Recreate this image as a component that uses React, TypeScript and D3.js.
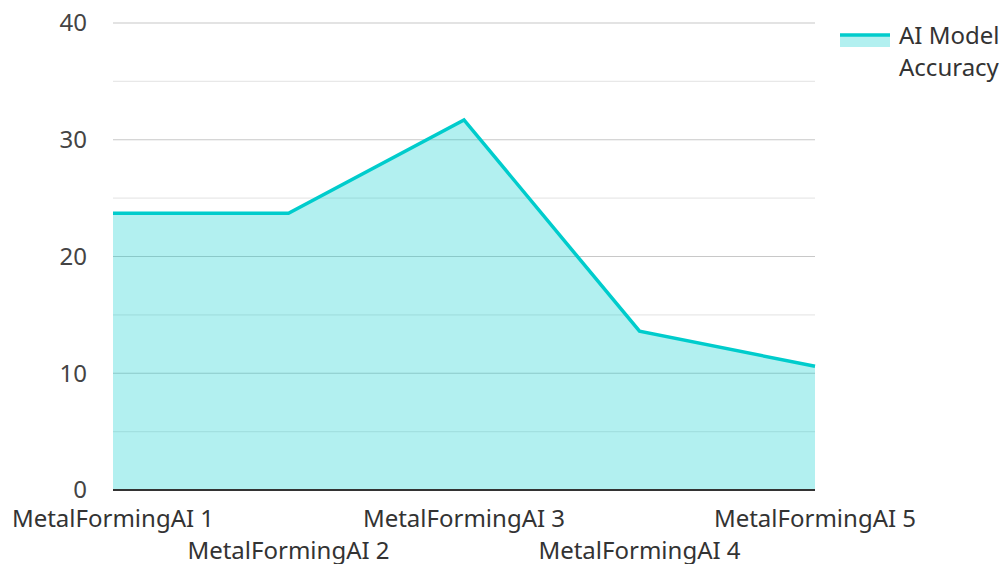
import React, { useRef, useEffect } from 'react';
import * as d3 from 'd3';

const categories = ['MetalFormingAI 1', 'MetalFormingAI 2', 'MetalFormingAI 3', 'MetalFormingAI 4', 'MetalFormingAI 5'];
const accuracy = [23.7, 23.7, 31.7, 13.6, 10.6];
const majorTicks = [0, 10, 20, 30, 40];
const minorTicks = [5, 15, 25, 35];
const seriesName = ['AI Model', 'Accuracy'];

const width = 1005;
const height = 564;

const App = () => {
    const svgRef = useRef<SVGSVGElement | null>(null);

    useEffect(() => {
        const svg = d3.select(svgRef.current);
        svg.selectAll('*').remove();
        const margin = { top: 23, right: 190, bottom: 74, left: 113 };
        const font = '"Noto Sans", sans-serif';

        const x = d3.scalePoint<string>()
            .domain(categories)
            .range([margin.left, width - margin.right])
            .padding(0);

        const y = d3.scaleLinear()
            .domain([0, 40])
            .range([height - margin.bottom, margin.top]);

        // gridlines
        const grid = svg.append('g');
        grid.selectAll('line.minor')
            .data(minorTicks)
            .join('line')
            .attr('class', 'minor')
            .attr('x1', margin.left)
            .attr('x2', width - margin.right)
            .attr('y1', d => y(d))
            .attr('y2', d => y(d))
            .attr('stroke', '#e8e8e8')
            .attr('stroke-width', 1.2);
        grid.selectAll('line.major')
            .data(majorTicks.filter(d => d > 0))
            .join('line')
            .attr('class', 'major')
            .attr('x1', margin.left)
            .attr('x2', width - margin.right)
            .attr('y1', d => y(d))
            .attr('y2', d => y(d))
            .attr('stroke', '#c8c8c8')
            .attr('stroke-width', 1.2);

        const data = categories.map((c, i) => ({ c, v: accuracy[i] }));

        const area = d3.area<{ c: string; v: number }>()
            .x(d => x(d.c) as number)
            .y0(y(0))
            .y1(d => y(d.v));

        const line = d3.line<{ c: string; v: number }>()
            .x(d => x(d.c) as number)
            .y(d => y(d.v));

        svg.append('path')
            .datum(data)
            .attr('d', area)
            .attr('fill', 'rgba(0, 204, 204, 0.3)');

        svg.append('path')
            .datum(data)
            .attr('d', line)
            .attr('fill', 'none')
            .attr('stroke', '#00cccc')
            .attr('stroke-width', 3.5)
            .attr('stroke-linejoin', 'miter');

        // baseline
        svg.append('line')
            .attr('x1', margin.left)
            .attr('x2', width - margin.right)
            .attr('y1', y(0))
            .attr('y2', y(0))
            .attr('stroke', '#333')
            .attr('stroke-width', 2);

        // y labels
        svg.append('g')
            .selectAll('text')
            .data(majorTicks)
            .join('text')
            .attr('x', 87)
            .attr('y', d => y(d))
            .attr('dy', '0.35em')
            .attr('text-anchor', 'end')
            .attr('font-family', font)
            .attr('font-size', 24)
            .attr('fill', '#444')
            .text(d => d);

        // x labels, staggered
        svg.append('g')
            .selectAll('text')
            .data(categories)
            .join('text')
            .attr('x', d => x(d) as number)
            .attr('y', (d, i) => (i % 2 === 0 ? 527 : 559))
            .attr('text-anchor', 'middle')
            .attr('font-family', font)
            .attr('font-size', 24)
            .attr('fill', '#333')
            .text(d => d);

        // legend
        const legend = svg.append('g');
        legend.append('rect')
            .attr('x', 840)
            .attr('y', 34)
            .attr('width', 50)
            .attr('height', 13)
            .attr('fill', 'rgba(0, 204, 204, 0.3)');
        legend.append('line')
            .attr('x1', 840)
            .attr('x2', 890)
            .attr('y1', 35)
            .attr('y2', 35)
            .attr('stroke', '#00cccc')
            .attr('stroke-width', 3.5);
        legend.selectAll('text')
            .data(seriesName)
            .join('text')
            .attr('x', 899)
            .attr('y', (d, i) => 44 + i * 32)
            .attr('font-family', font)
            .attr('font-size', 24)
            .attr('fill', '#333')
            .text(d => d);
    }, []);

    return (
        <svg
            ref={svgRef}
            width={width}
            height={height}
            style={{ position: 'absolute', left: 0, top: 0, background: '#fff' }}
        ></svg>
    );
};

export default App;
